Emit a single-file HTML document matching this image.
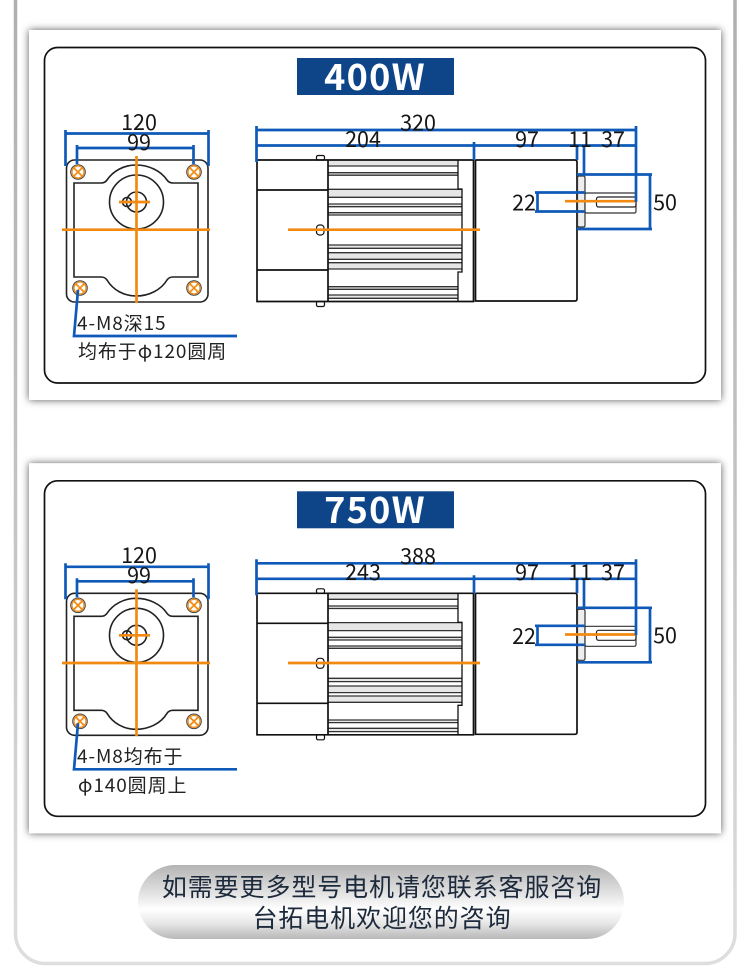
<!DOCTYPE html>
<html><head><meta charset="utf-8"><style>
html,body{margin:0;padding:0;background:#fff}
svg{display:block}
text{font-family:"Noto Sans CJK SC","Liberation Sans",sans-serif;fill:#161616}
.d{font-size:21.500px;text-anchor:middle}
.n{font-size:19px;letter-spacing:.9px;fill:#222}
.t{font-size:36px;font-weight:bold;fill:#fff;text-anchor:middle;letter-spacing:1.300px}
.p{font-size:25px;letter-spacing:.9px;fill:#1c2a3c;text-anchor:middle}
</style></head><body>
<svg width="750" height="979" viewBox="0 0 750 979" xmlns="http://www.w3.org/2000/svg">
<defs>
<linearGradient id="fr" x1="0" y1="0" x2="0" y2="1"><stop offset="0" stop-color="#aeaeae"/><stop offset=".55" stop-color="#c4c4c4"/><stop offset="1" stop-color="#dedede"/></linearGradient>
<linearGradient id="pl" x1="0" y1="0" x2="0" y2="1"><stop offset="0" stop-color="#b4b4b4"/><stop offset=".3" stop-color="#d8d8d8"/><stop offset=".6" stop-color="#fff"/><stop offset=".78" stop-color="#e8e8e8"/><stop offset="1" stop-color="#b8b8b8"/></linearGradient>
<filter id="sh" x="-5%" y="-5%" width="110%" height="110%"><feDropShadow dx="0" dy="0" stdDeviation="4" flood-color="#000" flood-opacity=".65"/></filter>
<g id="hole"><circle r="7.300" fill="#fff" stroke="#444" stroke-width="1"/><circle r="6" fill="none" stroke="#f28a12" stroke-width="1.300"/><path d="M-4.300-4.300L4.300 4.300M-4.300 4.300L4.300-4.300" stroke="#f28a12" stroke-width="1.700"/></g>
<g id="panel">
<rect x="29" y="30" width="692" height="370" fill="#fff" filter="url(#sh)"/>
<rect x="44.500" y="47.500" width="661" height="335.500" rx="13" fill="#fff" stroke="#111" stroke-width="1.700"/>
<rect x="297" y="58" width="157" height="37" fill="#0e4488"/>
<!-- front view -->
<g fill="none" stroke="#222" stroke-width="1.600">
<rect x="66.500" y="160" width="141.500" height="142" rx="8"/>
<path d="M74 183H101Q105 183 107 180C113 171 124 165 136 165C149 165 161 171 167 180Q169 183 173 183H198V277H173Q169 277 167 280C161 290 149 296 136 296C124 296 113 290 107 280Q105 277 101 277H74Z"/>
<circle cx="136.500" cy="202" r="27"/>
<circle cx="136.500" cy="202" r="10"/>
<circle cx="127" cy="202" r="4.500"/>
</g>
<use href="#hole" x="78" y="172"/><use href="#hole" x="194" y="172"/><use href="#hole" x="80" y="288"/><use href="#hole" x="194" y="288"/>
<path d="M136.500 156V303M62 229.700H210M119 202H150" stroke="#f28a12" stroke-width="2.700" fill="none"/>
<path d="M65.500 130V166M208.500 130V166M65.500 133.500H208.500" stroke="#0f5ab8" stroke-width="2.700" fill="none"/>
<path d="M77 145V164M193.500 145V164M77 148H193.500" stroke="#0f5ab8" stroke-width="2.700" fill="none"/>
<path d="M78 290L74 336H237" stroke="#0f5ab8" stroke-width="2.700" fill="none"/>
<!-- side view -->
<g fill="#e6e6e6">
<rect x="328" y="160" width="130" height="6"/><rect x="328" y="172.700" width="130" height="2.500"/>
<rect x="328" y="189.300" width="134" height="8"/><rect x="328" y="204" width="134" height="2.700"/><rect x="328" y="212.700" width="134" height="2.300"/>
<rect x="328" y="245" width="134" height="3.300"/><rect x="328" y="252.700" width="134" height="6.600"/><rect x="328" y="262.700" width="134" height="6.300"/>
<rect x="328" y="286.700" width="130" height="2.600"/><rect x="328" y="295" width="130" height="3.300"/>
</g>
<g stroke="#333" stroke-width="1.300" fill="none">
<path d="M328 166H458M328 172.700H458M328 175.200H458M328 189.300H462M328 197.300H462M328 204H462M328 206.700H462M328 212.700H462M328 215H462M328 245H462M328 248.300H462M328 252.700H462M328 259.300H462M328 262.700H462M328 269H462M328 286.700H458M328 289.300H458M328 295H458M328 298.300H458"/>
</g>
<g fill="none" stroke="#111" stroke-width="1.700">
<path d="M257 160H473.500V301.500H257ZM257 190H328M257 270H328M328 160V301"/>
<path d="M475.500 160H575Q577 160 577 162V299Q577 301 575 301H475.500V160"/>
<rect x="316.500" y="155.500" width="8" height="4.500" rx="1.500" stroke-width="1.200"/>
<rect x="316.500" y="301.500" width="8" height="5" rx="1.500" stroke-width="1.200"/>
<rect x="316.500" y="225" width="7.500" height="10" rx="3" stroke-width="1.200"/>
<path d="M458 160V189H462V272H458V301" stroke-width="1.300"/>
</g>
<rect x="577.500" y="176" width="7.500" height="51" rx="1.500" fill="#eee" stroke="#333" stroke-width="1.200"/>
<rect x="585" y="193" width="51" height="20" rx="1.500" fill="#fff" stroke="#333" stroke-width="1.200"/>
<rect x="596.500" y="197" width="39.500" height="10" rx="2" fill="none" stroke="#222" stroke-width="1.200"/>
<path d="M288 229.700H480M565 201.200H636" stroke="#f28a12" stroke-width="2.700" fill="none"/>
<g stroke="#0f5ab8" stroke-width="2.700" fill="none">
<path d="M256.500 126V162M256.500 130H636M256.500 145.500H636M636 126V202"/>
<path d="M474 142V160M577 145V160M584 145V175"/>
<path d="M577 174.500H652M577 229H652M650 174.500V229"/>
<path d="M535 192.500H585M535 211.500H585M537.500 192.500V211.500"/>
</g>
</g>
</defs>
<rect x="15.500" y="-40" width="719.500" height="1003.500" rx="30" fill="#fff" stroke="url(#fr)" stroke-width="3.500"/>
<use href="#panel"/>
<use href="#panel" y="433.300"/>

<text class="t" x="375" y="90">400W</text>
<text class="d" x="139" y="130">120</text><text class="d" x="139" y="150">99</text>
<text class="d" x="418" y="130.500">320</text><text class="d" x="363" y="147">204</text>
<text class="d" x="527" y="147">97</text><text class="d" x="580" y="147">11</text><text class="d" x="613" y="147">37</text>
<text class="d" x="524" y="210.500">22</text><text class="d" x="665" y="210">50</text>
<text class="n" x="77" y="330">4-M8深15</text>
<text class="n" x="78" y="358">均布于φ120圆周</text>

<text class="t" x="375" y="523">750W</text>
<text class="d" x="139" y="563">120</text><text class="d" x="139" y="583">99</text>
<text class="d" x="418" y="564">388</text><text class="d" x="363" y="580">243</text>
<text class="d" x="527" y="580">97</text><text class="d" x="580" y="580">11</text><text class="d" x="613" y="580">37</text>
<text class="d" x="524" y="644">22</text><text class="d" x="665" y="643">50</text>
<text class="n" x="77" y="763">4-M8均布于</text>
<text class="n" x="78" y="792">φ140圆周上</text>

<rect x="138" y="865" width="486" height="74" rx="37" fill="url(#pl)"/>
<text class="p" x="382" y="896">如需要更多型号电机请您联系客服咨询</text>
<text class="p" x="382" y="927">台拓电机欢迎您的咨询</text>
</svg>
</body></html>
